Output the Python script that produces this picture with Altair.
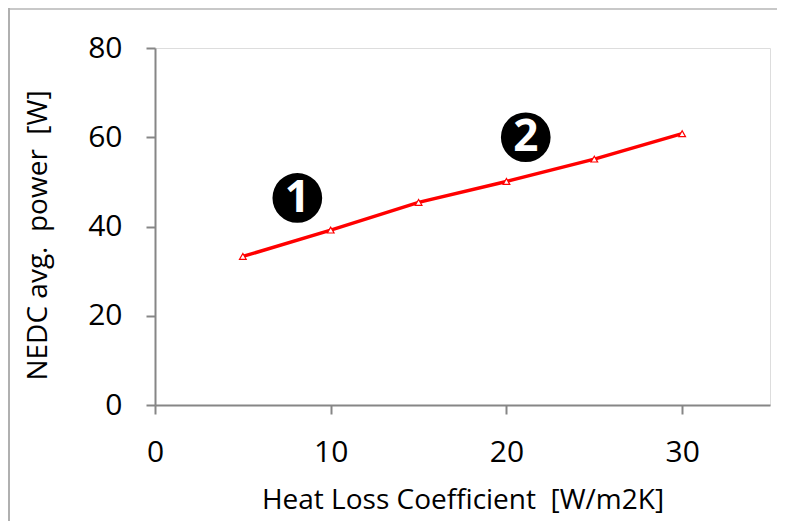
import altair as alt
import pandas as pd

hlc = [5, 10, 15, 20, 25, 30]
power = [33.3, 39.2, 45.4, 50.1, 55.1, 60.8]
label_x = [8.1, 21.1]
label_y = [46.4, 60.0]
label_text = ["1", "2"]

df = pd.DataFrame({"hlc": hlc, "power": power})
lab = pd.DataFrame({"x": label_x, "y": label_y, "t": label_text})

FONT = "Open Sans"
W, H = 615, 357

xs = alt.Scale(domain=[0, 35], nice=False)
ys = alt.Scale(domain=[0, 80], nice=False)

xax = alt.Axis(values=[0, 10, 20, 30], title="Heat Loss Coefficient\u00a0 [W/m2K]",
               grid=False, domainColor="#868686", domainWidth=2, tickColor="#868686",
               tickWidth=2, tickSize=9, labelFontSize=30, labelFont=FONT, labelColor="#000000",
               labelPadding=23, titleFontSize=28, titleFont=FONT, titleFontWeight="normal",
               titleColor="#000000", titleBaseline="middle", titleY=95, labelFlush=False)
yax = alt.Axis(values=[0, 20, 40, 60, 80], title="NEDC avg.\u00a0 power\u00a0 [W]",
               grid=False, domainColor="#868686", domainWidth=2, tickColor="#868686",
               tickWidth=2, tickSize=9, labelFontSize=30, labelFont=FONT, labelColor="#000000",
               labelPadding=24, titleFontSize=28, titleFont=FONT, titleFontWeight="normal",
               titleColor="#000000", titleBaseline="middle", titleX=-117, titleY=187)

base = alt.Chart(df)

line = base.mark_line(color="#ff0000", strokeWidth=3.5).encode(
    x=alt.X("hlc:Q", scale=xs, axis=xax),
    y=alt.Y("power:Q", scale=ys, axis=yax),
)
pts = base.mark_point(shape="triangle-up", size=45, filled=True, fill="white",
                      stroke="#ff0000", strokeWidth=1.2, opacity=1).encode(
    x=alt.X("hlc:Q", scale=xs),
    y=alt.Y("power:Q", scale=ys),
)
circ = alt.Chart(lab).mark_circle(size=2470, color="#000000", opacity=1).encode(
    x=alt.X("x:Q", scale=xs),
    y=alt.Y("y:Q", scale=ys),
)
txt = alt.Chart(lab).mark_text(font=FONT, fontSize=44, fontWeight="bold", color="white",
                               baseline="middle", align="center", dy=1).encode(
    x=alt.X("x:Q", scale=xs),
    y=alt.Y("y:Q", scale=ys),
    text="t:N",
)
border_top = alt.Chart(df).mark_rule(color="#c8c8c8", strokeWidth=2).encode(
    x=alt.value(-147), x2=alt.value(W + 10), y=alt.value(-39)
)
border_left = alt.Chart(df).mark_rule(color="#b0b0b0", strokeWidth=2).encode(
    x=alt.value(-146), y=alt.value(-40), y2=alt.value(H + 120)
)

chart = alt.layer(border_top, border_left, line, pts, circ, txt).properties(
    width=W, height=H,
    autosize=alt.AutoSizeParams(type="none"),
    padding={"left": 147, "top": 40, "right": 7, "bottom": 116},
).configure_view(stroke=None).configure(background="white")

chart.save("out.html", embed_options={"renderer": "svg", "actions": False})
